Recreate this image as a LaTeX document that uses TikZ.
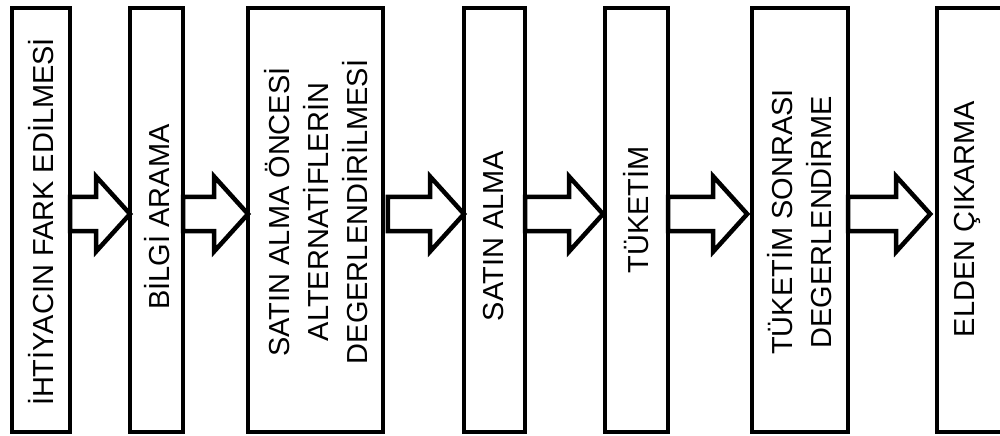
\documentclass[tikz,border=0pt]{standalone}
\usepackage{fontspec}
\setmainfont{Liberation Sans}
\usepackage{tikz}
\usetikzlibrary{calc}

\tikzset{
  stage/.style={rectangle, draw, line width=3.4pt, outer sep=0pt, inner sep=0pt, minimum height=10.6cm},
  stagetext/.style={rotate=90, align=center, inner sep=0pt, font=\fontsize{20.6}{27.8}\selectfont},
  flowarrow/.style={line width=3.2pt, fill=white},
}

% hollow block arrow from a point on one stage to a point on the next
\newcommand{\blockarrow}[2]{%
  \draw[flowarrow] let \p1 = (#1), \p2 = (#2) in
    (\x1,\y1+\arrowup+\shaft) -- (\x2-\headlen,\y1+\arrowup+\shaft)
    -- (\x2-\headlen,\y1+\arrowup+\headw) -- (\x2,\y1+\arrowup)
    -- (\x2-\headlen,\y1+\arrowup-\headw) -- (\x2-\headlen,\y1+\arrowup-\shaft)
    -- (\x1,\y1+\arrowup-\shaft) -- cycle;}

\begin{document}
\begin{tikzpicture}
          % Variables
          \def \midy    {5.375}
          \def \arrowup {0.15cm}
          \def \shaft   {0.43cm}
          \def \headw   {0.94cm}
          \def \headlen {0.85cm}

          \clip (0,0) rectangle (25,10.875);

          % Rectangles
          \node[stage, minimum width=1.45cm]  (b1) at (1.025,\midy) {};
          \node[stage, minimum width=1.325cm] (b2) at (3.9125,\midy) {};
          \node[stage, minimum width=3.375cm] (b3) at (7.8875,\midy) {};
          \node[stage, minimum width=1.525cm] (b4) at (12.3625,\midy) {};
          \node[stage, minimum width=1.575cm] (b5) at (15.9125,\midy) {};
          \node[stage, minimum width=2.4cm]   (b6) at (20.0,\midy) {};
          \node[stage, minimum width=1.65cm]  (b7) at (24.25,\midy) {};

          % Stage labels
          \node[stagetext] (t1) at (1.025, 5.325) {İHTİYACIN FARK EDİLMESİ};
          \node[stagetext] (t2) at (3.925, 5.45)  {BİLGİ ARAMA};
          \node[stagetext] (t3) at (7.9, 5.575)   {SATIN ALMA ÖNCESİ\\ALTERNATİFLERİN\\DEGERLENDİRİLMESİ};
          \node[stagetext] (t4) at (12.35, 4.975) {SATIN ALMA};
          \node[stagetext] (t5) at (15.9, 5.625)  {TÜKETİM};
          \node[stagetext] (t6) at (20.0, 5.325)  {TÜKETİM SONRASI\\DEGERLENDİRME};
          \node[stagetext] (t7) at (24.175, 5.4)  {ELDEN ÇIKARMA};

          % Arrows
          \blockarrow{b1.east}{b2.west}
          \blockarrow{b2.east}{b3.west}
          \blockarrow{[xshift=0.12cm]b3.east}{b4.west}
          \blockarrow{b4.east}{[xshift=-0.05cm]b5.west}
          \blockarrow{b5.east}{[xshift=-0.12cm]b6.west}
          \blockarrow{b6.east}{[xshift=-0.17cm]b7.west}

        \end{tikzpicture}
\end{document}
